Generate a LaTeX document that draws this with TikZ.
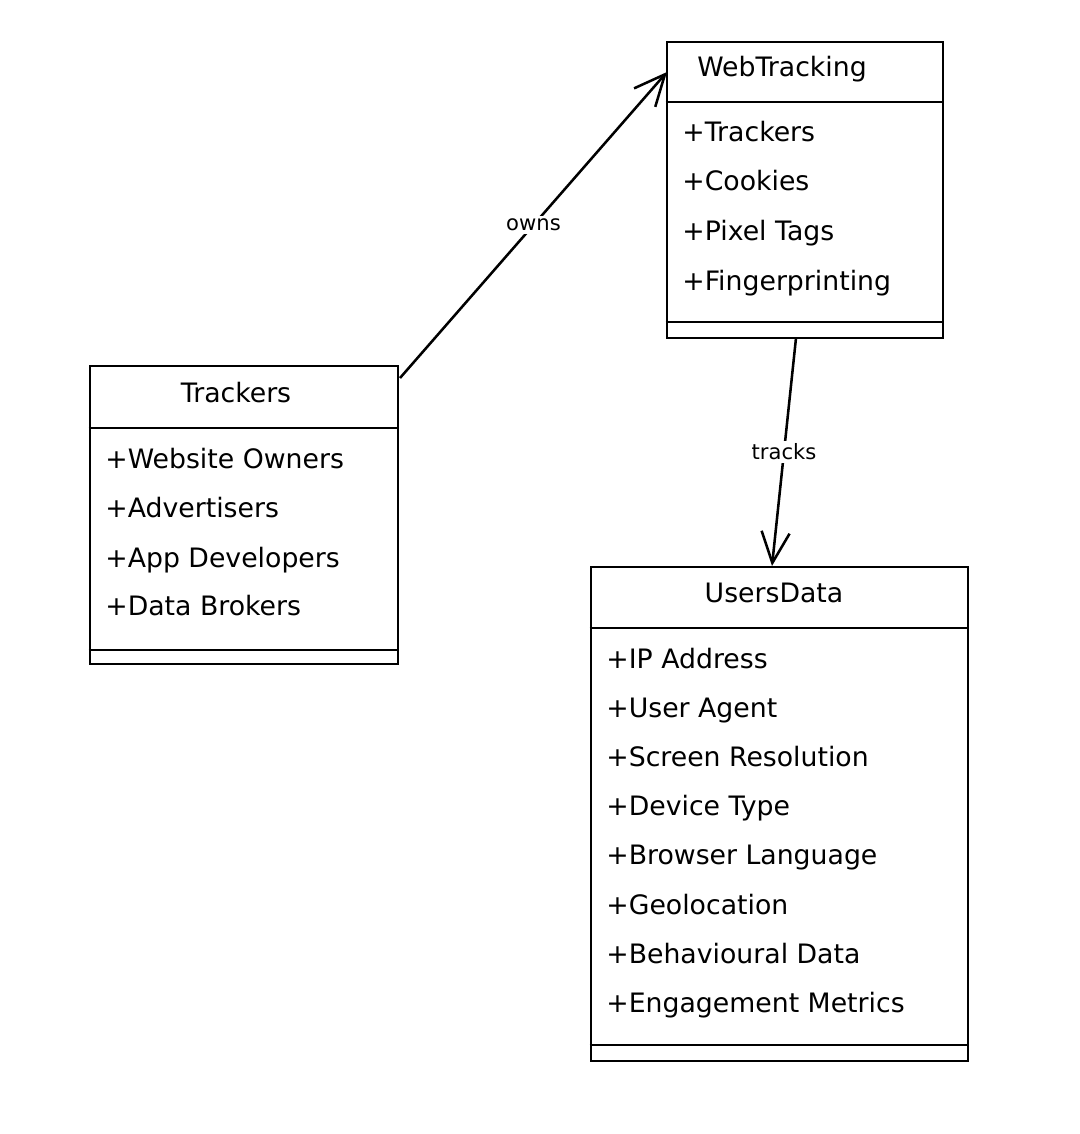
\documentclass[tikz,border=0pt]{standalone}
\usepackage{fontspec}
\setmainfont{DejaVu Sans}
\usetikzlibrary{positioning,arrows.meta}

\begin{document}
\begin{tikzpicture}[x=0.025cm, y=-0.025cm, line width=2pt,
		classbox/.style={draw, rectangle, inner sep=0pt},
		divider/.style={line width=1.2pt},
		member/.style={anchor=west, inner sep=0pt, yshift=-3.5pt, text height=1.6ex, text depth=0.45ex, font=\fontsize{19}{22}\selectfont},
		title/.style={inner sep=0pt, yshift=-3.5pt, text height=1.6ex, text depth=0.45ex, font=\fontsize{19}{22}\selectfont},
		relation/.style={line width=1.8pt, -{Straight Barb[length=22pt, width=20pt, line width=1.8pt]}},
		rellabel/.style={fill=white, inner sep=2pt, font=\fontsize{15}{17}\selectfont}]
		\useasboundingbox (0,0) rectangle (1080,1134);
		%WebTracking
		\node (web) [classbox, minimum width=6.9cm, minimum height=7.4cm] at (805,190) {};
		\node (webTitle) [title] at (782,67) {WebTracking};
		\draw[divider] (web.west |- 0,102) -- (web.east |- 0,102);
		\draw[divider] (web.west |- 0,322) -- (web.east |- 0,322);
		\node (webA) [member] at (681,132) {+Trackers};
		\node (webB) [member] at (681,181) {+Cookies};
		\node (webC) [member] at (681,231) {+Pixel Tags};
		\node (webD) [member] at (681,281) {+Fingerprinting};
		%Trackers
		\node (trackers) [classbox, minimum width=7.7cm, minimum height=7.45cm] at (244,515) {};
		\node (trackersTitle) [title] at (236,393) {Trackers};
		\draw[divider] (trackers.west |- 0,428) -- (trackers.east |- 0,428);
		\draw[divider] (trackers.west |- 0,650) -- (trackers.east |- 0,650);
		\node (trackersA) [member] at (104,459) {+Website Owners};
		\node (trackersB) [member] at (104,508) {+Advertisers};
		\node (trackersC) [member] at (104,558) {+App Developers};
		\node (trackersD) [member] at (104,606) {+Data Brokers};
		%UsersData
		\node (users) [classbox, minimum width=9.425cm, minimum height=12.35cm] at (779.5,814) {};
		\node (usersTitle) [title] at (774,593) {UsersData};
		\draw[divider] (users.west |- 0,628) -- (users.east |- 0,628);
		\draw[divider] (users.west |- 0,1045) -- (users.east |- 0,1045);
		\node (usersA) [member] at (605,659) {+IP Address};
		\node (usersB) [member] at (605,708) {+User Agent};
		\node (usersC) [member] at (605,757) {+Screen Resolution};
		\node (usersD) [member] at (605,806) {+Device Type};
		\node (usersE) [member] at (605,855) {+Browser Language};
		\node (usersF) [member] at (605,905) {+Geolocation};
		\node (usersG) [member] at (605,954) {+Behavioural Data};
		\node (usersH) [member] at (605,1003) {+Engagement Metrics};
		%Beziehungen
		\coordinate (ownsFrom) at (400,378);
		\coordinate (ownsTo) at (667,72);
		\draw[relation] (ownsFrom) -- node[rellabel] {owns} (ownsTo);
		\coordinate (tracksFrom) at (796,338);
		\coordinate (tracksTo) at (772,566);
		\draw[relation] (tracksFrom) -- node[rellabel] {tracks} (tracksTo);
	\end{tikzpicture}
\end{document}
